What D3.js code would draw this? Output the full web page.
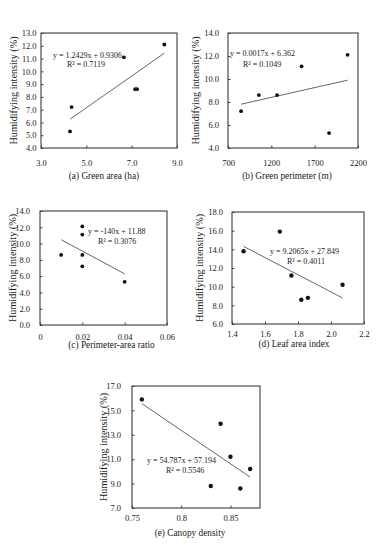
<!DOCTYPE html>
<html>
<head>
<meta charset="utf-8">
<script src="https://cdn.jsdelivr.net/npm/d3@7"></script>
<style>
  body { margin: 0; background: #fff; }
  svg text { font-family: "Liberation Serif", "Times New Roman", serif; fill: #1a1a1a; }
</style>
</head>
<body>
<div id="chart"></div>
<script>
// Values, one pair of arrays per panel
const areaX = [4.28, 4.35, 6.66, 7.15, 7.24, 8.44];
const areaY = [5.3, 7.2, 11.1, 8.6, 8.6, 12.1];

const perimX = [851, 1056, 1266, 1549, 1866, 2080];
const perimY = [7.2, 8.6, 8.6, 11.1, 5.3, 12.1];

const ratioX = [0.01, 0.02, 0.02, 0.02, 0.02, 0.04];
const ratioY = [8.6, 12.1, 11.1, 8.6, 7.2, 5.3];

const laiX = [1.47, 1.69, 1.76, 1.82, 1.86, 2.07];
const laiY = [13.8, 15.9, 11.2, 8.6, 8.8, 10.2];

const canopyX = [0.76, 0.84, 0.85, 0.87, 0.83, 0.86];
const canopyY = [15.9, 13.9, 11.2, 10.2, 8.8, 8.6];

// trend lines (slope, intercept) and their labels
const fitSlope = [1.2429, 0.0017, -140, -9.2065, -54.787];
const fitIntercept = [0.9306, 6.362, 11.88, 27.849, 57.194];
const eqLabels = ["y = 1.2429x + 0.9306", "y = 0.0017x + 6.362", "y = -140x + 11.88",
                  "y = 9.2065x + 27.849", "y = 54.787x + 57.194"];
const r2Labels = ["R\u00b2 = 0.7119", "R\u00b2 = 0.1049", "R\u00b2 = 0.3076", "R\u00b2 = 0.4011", "R\u00b2 = 0.5546"];

const captions = ["(a) Green area (ha)", "(b) Green perimeter (m)", "(c) Perimeter-area ratio",
                  "(d) Leaf area index", "(e) Canopy density"];

const xTicks = [[3, 5, 7, 9], [700, 1200, 1700, 2200], [0, 0.02, 0.04, 0.06], [1.4, 1.6, 1.8, 2.0, 2.2], [0.75, 0.8, 0.85]];
const yTicks = [[4, 5, 6, 7, 8, 9, 10, 11, 12, 13], [4, 6, 8, 10, 12, 14], [0, 2, 4, 6, 8, 10, 12, 14],
                [6, 8, 10, 12, 14, 16, 18], [7, 9, 11, 13, 15, 17]];
const xDomains = [[3, 9], [700, 2200], [0, 0.06], [1.4, 2.2], [0.75, 0.88]];
const yDomains = [[4, 13], [4, 14], [0, 14], [6, 18], [7, 17]];
const xFormats = [d3.format(".1f"), d3.format("d"), d => d === 0 ? "0" : d3.format(".2f")(d), d3.format(".1f"), d3.format("")];

// Layout of each panel (pixels)
const layout = [
    { x0: 41, x1: 177, y0: 33, y1: 148, xPad: 11.5, yPad: 4.5, titleX: 13, capX: 104, capY: 176, r: 1.9,
      eq: [53, 55], r2: [67, 64.5] },
    { x0: 228, x1: 358, y0: 33, y1: 148, xPad: 11.5, yPad: 9, titleX: 195, capX: 287, capY: 176, r: 1.9,
      eq: [230, 53.5], r2: [243, 64] },
    { x0: 40, x1: 167, y0: 211, y1: 325, xPad: 8.7, yPad: 10, titleX: 12.5, capX: 111.5, capY: 345, r: 1.9,
      eq: [88, 231], r2: [98, 241.5] },
    { x0: 232, x1: 364, y0: 212, y1: 324, xPad: 7.3, yPad: 9, titleX: 199, capX: 294, capY: 343.5, r: 2.2,
      eq: [270, 251], r2: [287, 261.5] },
    { x0: 132, x1: 260, y0: 386, y1: 508, xPad: 7, yPad: 11, titleX: 103, capX: 190, capY: 532.5, r: 2.2,
      eq: [147, 460], r2: [166, 470.5] }
];

const seriesX = [areaX, perimX, ratioX, laiX, canopyX];
const seriesY = [areaY, perimY, ratioY, laiY, canopyY];

const svg = d3.select("#chart").append("svg")
    .attr("width", 387)
    .attr("height", 544);

layout.forEach((p, i) => {
    const x = d3.scaleLinear().domain(xDomains[i]).range([p.x0, p.x1]);
    const y = d3.scaleLinear().domain(yDomains[i]).range([p.y1, p.y0]);
    const g = svg.append("g");

    // x axis, ticks pointing inside
    const xa = g.append("g")
        .attr("transform", `translate(0,${p.y1})`)
        .call(d3.axisBottom(x).tickValues(xTicks[i]).tickSize(-2.5).tickPadding(p.xPad).tickFormat(xFormats[i]));
    const ya = g.append("g")
        .attr("transform", `translate(${p.x0},0)`)
        .call(d3.axisLeft(y).tickValues(yTicks[i]).tickSize(-2.5).tickPadding(p.yPad).tickFormat(d3.format(".1f")));
    [xa, ya].forEach(a => {
        a.select(".domain").remove();
        a.selectAll("line").attr("stroke", "#444");
        a.selectAll("text").attr("font-size", 8.5).attr("font-family", null);
    });

    // plot border
    g.append("rect")
        .attr("x", p.x0).attr("y", p.y0)
        .attr("width", p.x1 - p.x0).attr("height", p.y1 - p.y0)
        .attr("fill", "none").attr("stroke", "#3c3c3c").attr("stroke-width", 1.1);

    // trend line over the data range
    const ext = d3.extent(seriesX[i]);
    g.append("line")
        .attr("x1", x(ext[0])).attr("y1", y(fitSlope[i] * ext[0] + fitIntercept[i]))
        .attr("x2", x(ext[1])).attr("y2", y(fitSlope[i] * ext[1] + fitIntercept[i]))
        .attr("stroke", "#555").attr("stroke-width", 0.9);

    // points
    g.selectAll("circle")
        .data(seriesX[i].map((v, k) => [v, seriesY[i][k]]))
        .enter().append("circle")
        .attr("cx", d => x(d[0]))
        .attr("cy", d => y(d[1]))
        .attr("r", p.r)
        .attr("fill", "#111");

    // equation and R2
    g.append("text").attr("x", p.eq[0]).attr("y", p.eq[1]).attr("dy", "0.35em")
        .attr("font-size", 8).text(eqLabels[i]);
    g.append("text").attr("x", p.r2[0]).attr("y", p.r2[1]).attr("dy", "0.35em")
        .attr("font-size", 8).text(r2Labels[i]);

    // y title
    g.append("text")
        .attr("transform", `translate(${p.titleX},${(p.y0 + p.y1) / 2}) rotate(-90)`)
        .attr("text-anchor", "middle").attr("dy", "0.35em")
        .attr("font-size", 10.2)
        .text("Humidifying intensity (%)");

    // caption
    g.append("text")
        .attr("x", p.capX).attr("y", p.capY).attr("dy", "0.35em")
        .attr("text-anchor", "middle").attr("font-size", 9.3)
        .text(captions[i]);
});
</script>
</body>
</html>
